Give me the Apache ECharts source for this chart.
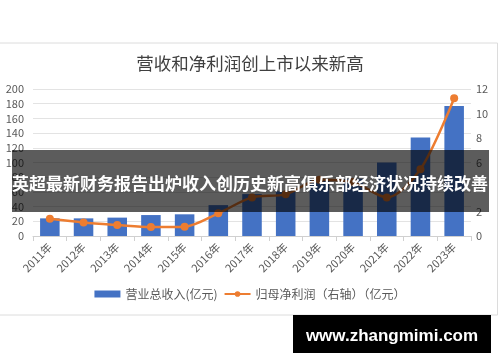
<!DOCTYPE html>
<html>
<head>
<meta charset="utf-8">
<script src="https://cdn.jsdelivr.net/npm/echarts@6/dist/echarts.min.js"></script>
<style>html,body{margin:0;padding:0;background:#fff;}#c{width:500px;height:362px;}</style>
</head>
<body>
<div id="c"></div>
<script>
var categories = ['2011年','2012年','2013年','2014年','2015年','2016年','2017年','2018年','2019年','2020年','2021年','2022年','2023年'];
var revenue = [24, 24, 25, 28.5, 29.5, 42, 57, 61, 77, 78, 100, 134, 177];
var netProfit = [1.4, 1.1, 0.9, 0.73, 0.76, 1.85, 3.15, 3.4, 4.6, 4.4, 3.15, 5.45, 11.25];
var leftTicks = [0, 200, 20];
var rightTicks = [0, 12, 2];
var titleText = '营收和净利润创上市以来新高';
var seriesNames = ['营业总收入(亿元)', '归母净利润（右轴）（亿元）'];
var bannerText = '英超最新财务报告出炉收入创历史新高俱乐部经济状况持续改善';
var watermarkText = 'www.zhangmimi.com';

var font = "'Noto Sans CJK SC', sans-serif";
var chart = echarts.init(document.getElementById('c'), null, {renderer: 'canvas'});
chart.setOption({
  animation: false,
  backgroundColor: '#fff',
  textStyle: {fontFamily: font},
  title: {
    text: titleText, left: 'center', top: 50,
    textStyle: {fontSize: 17.5, fontWeight: 'normal', color: '#404040', fontFamily: font}
  },
  grid: {left: 33, right: 29, top: 89, bottom: 126, containLabel: false},
  legend: {
    bottom: 57, left: 'center', itemWidth: 26, itemHeight: 7, itemGap: 6,
    textStyle: {fontSize: 12, color: '#595959', fontFamily: font},
    data: [
      {name: seriesNames[0], icon: 'rect'},
      {name: seriesNames[1]}
    ]
  },
  xAxis: {
    type: 'category', data: categories,
    axisLine: {lineStyle: {color: '#d0d0d0'}},
    axisTick: {show: true, length: 5, lineStyle: {color: '#d0d0d0'}},
    axisLabel: {rotate: 45, fontSize: 11, color: '#595959', margin: 9, interval: 0}
  },
  yAxis: [
    {type: 'value', min: leftTicks[0], max: leftTicks[1], interval: leftTicks[2],
     axisLine: {show: false}, axisTick: {show: false},
     splitLine: {lineStyle: {color: '#e3e3e3'}},
     axisLabel: {fontSize: 11, color: '#595959', margin: 9}},
    {type: 'value', min: rightTicks[0], max: rightTicks[1], interval: rightTicks[2],
     axisLine: {show: false}, axisTick: {show: false}, splitLine: {show: false},
     axisLabel: {fontSize: 11, color: '#595959', margin: 5}}
  ],
  series: [
    {name: seriesNames[0], type: 'bar', data: revenue, barWidth: '58%',
     itemStyle: {color: '#4472c4'}},
    {name: seriesNames[1], type: 'line', yAxisIndex: 1, data: netProfit,
     smooth: 0.3, symbol: 'circle', symbolSize: 8,
     lineStyle: {color: '#ed7d31', width: 2.5}, itemStyle: {color: '#ed7d31'}}
  ],
  graphic: [
    {type: 'rect', z: 0, silent: true,
     shape: {x: -2, y: 43, width: 499.5, height: 272},
     style: {fill: 'none', stroke: '#dcdcdc', lineWidth: 1}},
    {type: 'rect', z: 100, silent: true,
     shape: {x: 12, y: 150, width: 477, height: 62},
     style: {fill: 'rgba(0,0,0,0.64)'}},
    {type: 'text', z: 101, silent: true, x: 250, y: 184,
     style: {text: bannerText, fill: '#fff', font: "bold 17px 'Noto Sans CJK SC', sans-serif",
             textAlign: 'center', textVerticalAlign: 'middle'}},
    {type: 'rect', z: 100, silent: true,
     shape: {x: 293, y: 315, width: 198, height: 38},
     style: {fill: '#000'}},
    {type: 'text', z: 101, silent: true, x: 392, y: 336,
     style: {text: watermarkText, fill: '#fff', font: "bold 17px 'Liberation Sans', Arial, sans-serif",
             textAlign: 'center', textVerticalAlign: 'middle'}}
  ]
});
</script>
</body>
</html>
